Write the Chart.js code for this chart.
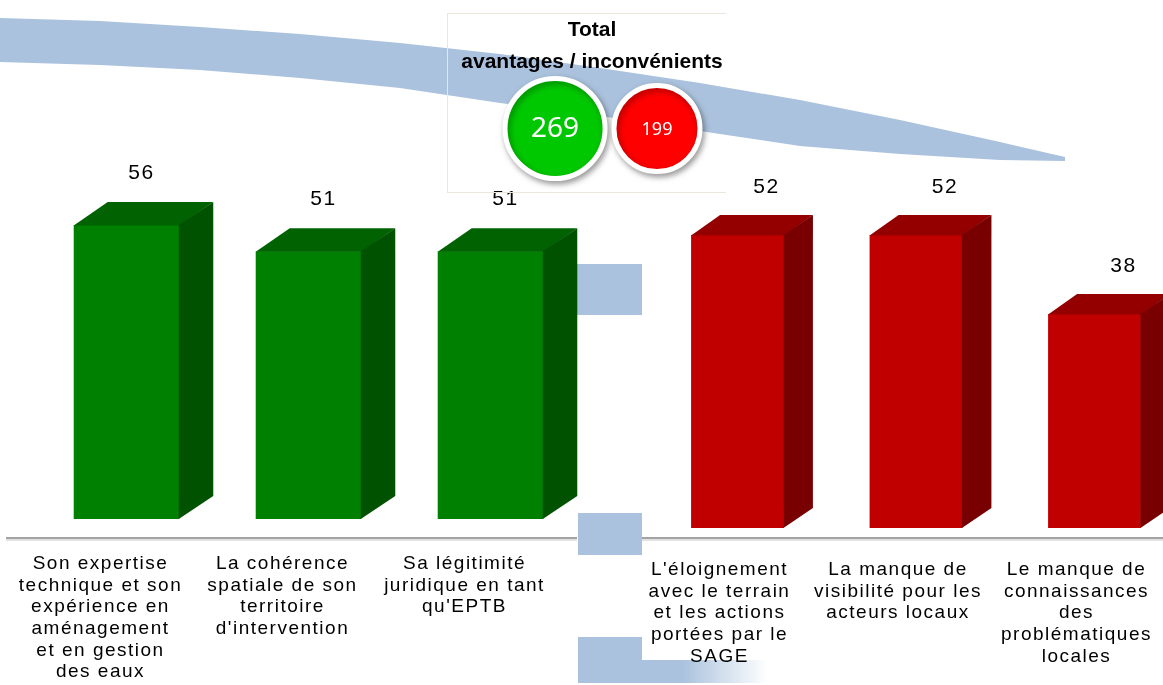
<!DOCTYPE html>
<html lang="fr">
<head>
<meta charset="utf-8">
<title>Avantages / inconvénients</title>
<script src="https://cdn.jsdelivr.net/npm/chart.js@4.4.1/dist/chart.umd.min.js"></script>
<style>
html,body{margin:0;padding:0;background:#fff;overflow:hidden}
#page{position:relative;width:1163px;height:685px;overflow:hidden}
#deco{position:absolute;left:0;top:0}
#cAv{position:absolute;left:0;top:140px}
#cIn{position:absolute;left:600px;top:160px}
#totalBox{position:absolute;left:447px;top:13px;width:278px;height:178px;border:1px solid #ebe7da;border-right:none;overflow:hidden}
#cTot{position:absolute;left:0;top:0}
</style>
</head>
<body>
<div id="page">
  <svg id="deco" width="1163" height="685">
    <defs>
      <linearGradient id="fade" x1="0" x2="1" y1="0" y2="0">
        <stop offset="0" stop-color="#aac2dd"/>
        <stop offset="0.55" stop-color="#aac2dd"/>
        <stop offset="1" stop-color="#aac2dd" stop-opacity="0"/>
      </linearGradient>
    </defs>
    <!-- arrow band, decoration only -->
    <polygon fill="#aac2dd" points="0,18 100,21 200,27 300,34 400,43 500,54 600,68 700,83 800,100 900,120 1000,142 1065,157 1065,161 1000,160 900,154 800,146 740,137 700,131 600,116 500,103 400,88 300,78 200,70 100,65 0,62"/>
    <rect x="577" y="264" width="65" height="51" fill="#aac2dd"/>
    <rect x="578" y="513" width="64" height="42" fill="#aac2dd"/>
    <rect x="578" y="637" width="64" height="23" fill="#aac2dd"/>
    <rect x="578" y="660" width="190" height="23" fill="url(#fade)"/>
  </svg>
  <canvas id="cAv" width="600" height="545"></canvas>
  <canvas id="cIn" width="600" height="525"></canvas>
  <div id="totalBox"><canvas id="cTot" width="288" height="178"></canvas></div>
</div>
<script>
// données
const avantagesLabels = [
  ['Son expertise', 'technique et son', 'expérience en', 'aménagement', 'et en gestion', 'des eaux'],
  ['La cohérence', 'spatiale de son', 'territoire', "d'intervention"],
  ['Sa légitimité', 'juridique en tant', "qu'EPTB"]
];
const avantagesValues = [56, 51, 51];

const inconvenientsLabels = [
  ["L'éloignement", 'avec le terrain', 'et les actions', 'portées par le', 'SAGE'],
  ['La manque de', 'visibilité pour les', 'acteurs locaux'],
  ['Le manque de', 'connaissances', 'des', 'problématiques', 'locales']
];
const inconvenientsValues = [52, 52, 38];

const totalLabels = ['avantages', 'inconvénients'];
const totalValues = [269, 199];

const FONT = '"Liberation Sans", Arial, sans-serif';

// faces 3D (dessus + côté), valeurs et ligne de sol
const box3d = {
  id: 'box3d',
  beforeDraw(chart) {
    chart.ctx.letterSpacing = '1.5px';
  },
  afterDatasetsDraw(chart, args, o) {
    const ctx = chart.ctx;
    const meta = chart.getDatasetMeta(0);
    const vals = chart.data.datasets[0].data;
    ctx.save();
    meta.data.forEach((bar, i) => {
      const p = bar.getProps(['x', 'y', 'base', 'width'], true);
      const l = p.x - p.width / 2, r = p.x + p.width / 2;
      ctx.fillStyle = o.top;
      ctx.beginPath();
      ctx.moveTo(l, p.y + 0.5);
      ctx.lineTo(l + o.dx, p.y - o.dy);
      ctx.lineTo(r + o.dx, p.y - o.dy);
      ctx.lineTo(r, p.y + 0.5);
      ctx.closePath();
      ctx.fill();
      ctx.fillStyle = o.side;
      ctx.beginPath();
      ctx.moveTo(r - 0.5, p.y);
      ctx.lineTo(r + o.dx, p.y - o.dy);
      ctx.lineTo(r + o.dx, p.base - o.dy);
      ctx.lineTo(r - 0.5, p.base);
      ctx.closePath();
      ctx.fill();
      ctx.fillStyle = '#000';
      ctx.font = '21px ' + FONT;
      ctx.textAlign = 'center';
      ctx.textBaseline = 'middle';
      ctx.fillText(vals[i], p.x + o.shift, p.y - o.dy - o.lift);
    });
    const y = chart.chartArea.bottom + o.floor;
    ctx.lineWidth = 2;
    ctx.strokeStyle = '#e2e2e2';
    ctx.beginPath(); ctx.moveTo(o.lineFrom, y + 2); ctx.lineTo(o.lineTo, y + 2); ctx.stroke();
    ctx.strokeStyle = '#a3a3a3';
    ctx.beginPath(); ctx.moveTo(o.lineFrom, y); ctx.lineTo(o.lineTo, y); ctx.stroke();
    ctx.restore();
  }
};

function makeBars(id, labels, values, s) {
  return new Chart(document.getElementById(id), {
    type: 'bar',
    data: {
      labels: labels,
      datasets: [{
        data: values,
        backgroundColor: s.front,
        borderWidth: 0,
        barPercentage: s.barPct,
        categoryPercentage: 1
      }]
    },
    options: {
      responsive: false,
      animation: false,
      layout: { padding: { left: s.padL, right: s.padR, top: s.padT, bottom: 0 } },
      scales: {
        x: {
          grid: { display: false, drawTicks: false },
          border: { display: false },
          ticks: {
            color: '#000',
            font: { family: FONT, size: 19, lineHeight: 1.14 },
            padding: s.tickPad,
            labelOffset: s.labelOff,
            maxRotation: 0,
            autoSkip: false
          },
          afterFit(scale) { scale.height = s.axisH; }
        },
        y: { display: false, min: 0, max: 60 }
      },
      plugins: {
        legend: { display: false },
        tooltip: { enabled: false },
        box3d: s.box
      }
    },
    plugins: [box3d]
  });
}

makeBars('cAv', avantagesLabels, avantagesValues, {
  front: '#008000', barPct: 0.58,
  padL: 35.5, padR: 18.5, padT: 64, axisH: 166, tickPad: 34, labelOff: -26,
  box: { top: '#006200', side: '#005200', dx: 34, dy: 23, shift: 15, lift: 29, floor: 19, lineFrom: 6, lineTo: 577 }
});

makeBars('cIn', inconvenientsLabels, inconvenientsValues, {
  front: '#c00000', barPct: 0.52,
  padL: 48.25, padR: 16.25, padT: 30, axisH: 157, tickPad: 31, labelOff: -18,
  box: { top: '#940000', side: '#780000', dx: 29, dy: 20, shift: 29, lift: 28, floor: 10, lineFrom: 42, lineTo: 600 }
});

// pastilles des totaux
const bubbleText = {
  id: 'bubbleText',
  beforeDatasetsDraw(chart) {
    const c = chart.ctx;
    c.save();
    c.shadowColor = 'rgba(0,0,0,0.35)';
    c.shadowBlur = 6;
    c.shadowOffsetX = 2;
    c.shadowOffsetY = 3;
  },
  afterDatasetsDraw(chart, args, o) {
    const c = chart.ctx;
    c.restore();
    c.save();
    chart.getDatasetMeta(0).data.forEach((pt, i) => {
      c.fillStyle = '#fff';
      c.font = o.sizes[i] + 'px "Noto Sans", "Open Sans", sans-serif';
      c.textAlign = 'center';
      c.textBaseline = 'middle';
      c.fillText(totalValues[i], pt.x, pt.y + 1);
    });
    c.restore();
  }
};

new Chart(document.getElementById('cTot'), {
  type: 'bubble',
  data: {
    datasets: [{
      data: totalValues.map((v, i) => ({ x: i, y: 0, r: Math.sqrt(v) * 3.05 })),
      backgroundColor: ['#00c800', '#ff0000'],
      borderColor: '#ffffff',
      borderWidth: 5,
      clip: false
    }]
  },
  options: {
    responsive: false,
    animation: false,
    layout: { autoPadding: false, padding: { left: 0, right: 0, top: 0, bottom: 13 } },
    scales: {
      x: { type: 'linear', min: -1.05, max: 1.775, display: false },
      y: { display: false, min: -1, max: 1 }
    },
    plugins: {
      legend: { display: false },
      tooltip: { enabled: false },
      title: {
        display: true,
        text: ['Total', 'avantages / inconvénients'],
        color: '#000',
        font: { family: FONT, size: 21, weight: 'bold', lineHeight: 32 / 21 },
        padding: { top: 0, bottom: 0 }
      },
      bubbleText: { sizes: [28, 18] }
    }
  },
  plugins: [bubbleText]
});
</script>
</body>
</html>
